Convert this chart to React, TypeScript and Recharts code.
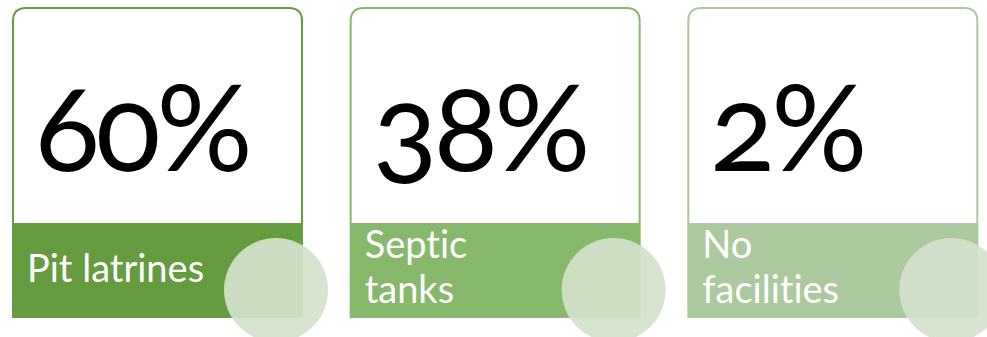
import React from "react"
import { Bar, BarChart, XAxis, YAxis } from "recharts"

const categories = ["Pit latrines", "Septic tanks", "No facilities"]
const labelLines = [["Pit latrines"], ["Septic", "tanks"], ["No", "facilities"]]
const shares = [60, 38, 2]
const COLORS = ["#659c3f", "#86b96c", "#adc99e"]

const data = categories.map((name, i) => ({ name, share: shares[i], lines: labelLines[i] }))

const BAND_H = 95
const RADIUS = 14

function CardShape(props: any) {
  const { x, width, background, index, payload } = props
  const top = background.y
  const bottom = background.y + background.height
  const bandTop = bottom - BAND_H
  const color = COLORS[index % COLORS.length]
  const left = x
  const right = x + width
  const border = `M${left + 1},${bandTop} L${left + 1},${top + RADIUS} Q${left + 1},${top + 1} ${left + RADIUS},${top + 1} L${right - RADIUS},${top + 1} Q${right - 1},${top + 1} ${right - 1},${top + RADIUS} L${right - 1},${bandTop}`
  const lines: string[] = payload.lines
  const firstBase = lines.length > 1 ? bandTop + 35 : bandTop + 59
  return (
    <g>
      <path d={border} fill="#ffffff" stroke={color} strokeWidth={2} />
      <rect x={left} y={bandTop} width={width} height={BAND_H} fill={color} />
      <text
        x={left + 23}
        y={top + 164}
        fontFamily="Lato, 'Open Sans', sans-serif"
        fontSize={120}
        letterSpacing={-4}
        fill="#000000"
        style={{ fontVariantNumeric: "oldstyle-nums" }}
      >
        {`${payload.share}%`}
      </text>
      {lines.map((line, i) => (
        <text
          key={line}
          x={left + 15}
          y={firstBase + i * 45}
          fontFamily="Lato, 'Open Sans', sans-serif"
          fontSize={38}
          fill="#ffffff"
          style={{ fontVariantLigatures: "none" }}
        >
          {line}
        </text>
      ))}
      <circle cx={right - 27} cy={bottom - 28} r={52} fill="#d2e2cc" fillOpacity={0.92} />
    </g>
  )
}

export default function App() {
  return (
    <div style={{ position: "absolute", left: 0, top: 0, width: 987, height: 337, overflow: "hidden", background: "#fff" }}>
      <div style={{ marginLeft: -11 }}>
        <BarChart
          width={1013}
          height={337}
          data={data}
          margin={{ top: 7, right: 0, bottom: 19, left: 0 }}
          barSize={291}
        >
          <XAxis dataKey="name" hide />
          <YAxis domain={[0, 100]} hide />
          <Bar
            dataKey="share"
            isAnimationActive={false}
            background={{ fill: "transparent" }}
            shape={CardShape}
          />
        </BarChart>
      </div>
    </div>
  )
}
